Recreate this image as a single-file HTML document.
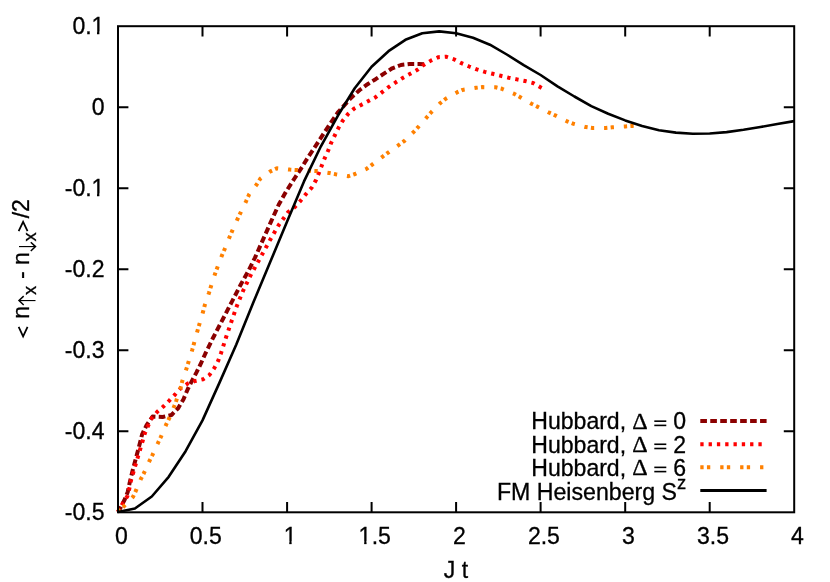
<!DOCTYPE html>
<html><head><meta charset="utf-8"><title>plot</title>
<style>html,body{margin:0;padding:0;background:#fff;}svg{display:block;will-change:transform;transform:translateZ(0);}text{font-family:"Liberation Sans",sans-serif;font-size:23.06px;fill:#000;stroke:#000;stroke-width:0.3px;font-kerning:none;font-variant-ligatures:none;}.sym{font-family:"Liberation Serif",serif;}</style></head><body>
<svg width="830" height="582" viewBox="0 0 830 582">
<rect x="0" y="0" width="830" height="582" fill="#fff"/>
<path d="M202.5,512.3 v-10.4 M202.5,26.2 v10.4 M287.1,512.3 v-10.4 M287.1,26.2 v10.4 M371.6,512.3 v-10.4 M371.6,26.2 v10.4 M456.1,512.3 v-10.4 M456.1,26.2 v10.4 M540.6,512.3 v-10.4 M540.6,26.2 v10.4 M625.2,512.3 v-10.4 M625.2,26.2 v10.4 M709.7,512.3 v-10.4 M709.7,26.2 v10.4 M118.0,107.2 h10.4 M794.2,107.2 h-10.4 M118.0,188.2 h10.4 M794.2,188.2 h-10.4 M118.0,269.2 h10.4 M794.2,269.2 h-10.4 M118.0,350.3 h10.4 M794.2,350.3 h-10.4 M118.0,431.3 h10.4 M794.2,431.3 h-10.4" stroke="#000" stroke-width="2" fill="none"/>
<g fill="none" stroke-linejoin="round">
<path d="M118.0,512.0 L120.4,507.9 L124.5,500.0 L127.7,492.0 L129.7,482.6 L132.4,471.4 L135.1,461.3 L137.7,451.6 L139.8,443.6 L142.1,434.4 L146.6,425.1 L152.5,416.6 L162.6,417.0 L171.5,415.0 L178.3,408.0 L183.5,399.2 L187.8,389.0 L192.2,380.4 L196.5,372.4 L200.8,363.7 L205.3,353.7 L213.4,337.2 L222.8,319.2 L232.2,301.1 L240.8,284.5 L248.6,270.5 L254.9,257.9 L262.9,239.9 L270.8,222.1 L278.8,204.5 L285.5,192.6 L294.3,178.7 L301.5,167.8 L308.7,156.3 L316.0,145.4 L323.9,133.1 L331.1,122.3 L338.2,112.0 L351.0,97.9 L359.7,90.0 L367.6,84.2 L375.6,79.2 L384.3,73.4 L392.2,68.3 L400.9,65.0 L409.6,64.0 L419.0,64.0 L424.0,64.3" stroke="#8b0000" stroke-width="4" stroke-dasharray="6.604 3.302" stroke-dashoffset="0.4"/>
<path d="M118.0,512.0 L122.8,503.1 L127.3,496.4 L129.3,488.7 L130.9,480.8 L133.3,472.5 L135.5,464.9 L137.8,457.2 L140.2,449.1 L142.6,441.1 L144.9,433.1 L148.2,425.5 L152.0,417.9 L157.3,411.8 L163.4,406.5 L169.3,400.6 L175.1,394.5 L180.6,388.3 L187.5,383.7 L194.6,381.1 L203.0,379.3 L209.5,374.9 L214.3,368.1 L218.2,360.8 L221.1,352.9 L226.1,337.2 L231.4,321.6 L236.8,306.1 L243.0,291.0 L250.2,276.1 L254.2,268.8 L262.2,254.3 L270.1,239.9 L278.5,225.4 L288.2,212.0 L294.7,207.1 L300.5,200.8 L306.0,194.0 L311.8,187.5 L316.0,180.1 L318.9,172.9 L321.7,165.7 L324.6,158.4 L328.2,150.5 L331.1,143.0 L334.8,135.3 L338.4,128.1 L342.7,120.8 L347.8,114.3 L353.9,108.8 L361.1,104.9 L368.4,101.1 L375.6,97.2 L382.1,92.2 L388.6,87.1 L395.8,82.3 L403.1,77.7 L410.3,73.8 L417.5,69.8 L424.0,64.7 L431.3,60.4 L438.5,57.2 L446.0,56.7 L454.0,59.3 L461.5,63.2 L469.2,66.5 L476.8,69.4 L484.8,71.9 L492.7,73.8 L500.7,75.8 L508.6,77.7 L516.9,79.4 L525.1,81.0 L533.0,83.0 L540.5,87.3 L541.8,88.0" stroke="#ff0000" stroke-width="4" stroke-dasharray="3.304 4.956" stroke-dashoffset="0.46"/>
<path d="M118.0,512.0 L123.6,506.6 L133.0,496.8 L135.9,490.7 L140.9,478.9 L144.1,472.8 L149.6,460.6 L152.5,454.9 L158.0,443.0 L160.9,436.9 L166.1,424.7 L169.0,418.7 L174.1,406.4 L176.3,400.6 L180.6,387.9 L182.3,381.1 L186.4,368.8 L188.3,362.7 L192.1,350.3 L193.9,343.7 L197.5,330.7 L199.3,324.5 L203.0,311.9 L204.7,305.4 L209.0,292.8 L210.9,286.6 L215.0,274.0 L217.3,267.6 L222.0,255.3 L224.6,249.3 L229.6,237.0 L232.2,230.9 L237.6,218.9 L240.5,212.8 L246.3,200.8 L249.2,194.3 L256.7,184.5 L260.3,178.7 L270.4,171.4 L276.9,168.3 L289.9,169.6 L296.4,170.0 L309.5,170.7 L316.7,171.0 L329.0,172.9 L335.6,174.2 L348.6,176.2 L355.1,174.0 L366.8,168.7 L371.9,164.8 L382.4,156.8 L387.8,152.8 L398.6,145.1 L404.1,141.2 L413.5,132.1 L418.1,127.2 L426.8,117.3 L431.2,112.3 L440.4,103.0 L445.4,99.0 L456.9,92.4 L462.6,89.9 L476.1,87.8 L482.5,87.1 L495.6,87.3 L502.0,88.8 L514.4,93.9 L519.8,96.9 L531.4,103.7 L537.3,106.6 L549.3,112.7 L555.1,115.3 L567.0,121.3 L573.2,123.7 L585.8,127.1 L592.6,128.0 L605.7,127.9 L612.2,127.3 L625.5,126.4 L632.2,125.9 L634.0,125.8" stroke="#ff8000" stroke-width="4" stroke-dasharray="3.299 3.299 3.299 9.897" stroke-dashoffset="-0.22"/>
<path d="M118.0,512.1 L134.9,508.5 L151.8,496.5 L168.7,476.8 L185.6,451.2 L202.5,420.4 L219.4,382.9 L236.3,344.5 L253.2,302.8 L270.1,262.3 L287.1,221.6 L304.0,181.4 L320.9,146.3 L337.8,115.8 L354.7,88.3 L371.6,66.7 L388.5,51.2 L405.4,39.8 L422.3,33.2 L439.2,31.4 L456.1,33.3 L473.0,37.7 L489.9,44.7 L506.8,54.5 L523.7,65.1 L540.6,75.0 L557.5,86.3 L574.4,96.5 L591.3,106.1 L608.2,113.8 L625.2,120.4 L642.1,126.1 L659.0,130.2 L675.9,132.6 L692.8,133.7 L709.7,133.5 L726.6,132.1 L743.5,129.8 L760.4,127.0 L777.3,124.0 L794.2,121.1" stroke="#000" stroke-width="2.6"/>
</g>
<rect x="118.0" y="26.2" width="676.2" height="486.1" fill="none" stroke="#000" stroke-width="2"/>
<defs><clipPath id="nofoot"><path d="M-3,-22 H16 V-2.6 H-3 Z M5.65,-3 H7.96 V1 H5.65 Z"/></clipPath></defs>
<text x="72.45" y="34.2">0.</text>
<g transform="translate(91.38,34.2)"><text x="0" y="0" clip-path="url(#nofoot)">1</text></g>
<text x="91.68" y="115.2">0</text>
<text x="64.77" y="196.2">-0.</text>
<g transform="translate(91.38,196.2)"><text x="0" y="0" clip-path="url(#nofoot)">1</text></g>
<text x="64.77" y="277.2">-0.2</text>
<text x="64.77" y="358.3">-0.3</text>
<text x="64.77" y="439.3">-0.4</text>
<text x="64.77" y="520.3">-0.5</text>
<text x="114.89" y="543.8">0</text>
<text x="189.80" y="543.8">0.5</text>
<g transform="translate(283.64,543.8)"><text x="0" y="0" clip-path="url(#nofoot)">1</text></g>
<g transform="translate(358.55,543.8)"><text x="0" y="0" clip-path="url(#nofoot)">1</text></g>
<text x="371.67" y="543.8">.5</text>
<text x="452.99" y="543.8">2</text>
<text x="527.90" y="543.8">2.5</text>
<text x="622.04" y="543.8">3</text>
<text x="696.95" y="543.8">3.5</text>
<text x="791.09" y="543.8">4</text>
<text x="456" y="578" text-anchor="middle">J t</text>
<g transform="translate(28.8,338.5) rotate(-90)">
<text x="19.88" y="0">n</text>
<path d="M11.7,-10.15 L2.1,-5.7 L11.7,-1.25" fill="none" stroke="#000" stroke-width="1.75" stroke-miterlimit="10"/>
<path d="M107.3,-10.15 L116.7,-5.7 L107.3,-1.25" fill="none" stroke="#000" stroke-width="1.75" stroke-miterlimit="10"/>
<text x="43.42" y="6.92" style="font-size:18.45px">x</text>
<text x="59.46" y="0">- n</text>
<text x="97.09" y="6.92" style="font-size:18.45px">x</text>
<text x="120.18" y="0">/2</text>
<g fill="none" stroke="#000" stroke-linecap="butt">
<path d="M37.95,6.70 V-9.40" stroke-width="1.15"/>
<path d="M33.55,-5.10 L37.95,-9.80 L42.35,-5.10" stroke-width="1.5" stroke-linejoin="miter"/>
<path d="M91.92,-9.80 V6.30" stroke-width="1.15"/>
<path d="M87.52,2.00 L91.92,6.70 L96.32,2.00" stroke-width="1.5" stroke-linejoin="miter"/>
</g></g>
<text x="626.1" y="429.4" text-anchor="end">Hubbard,</text>
<text x="632.25" y="428.9" class="sym" style="font-size:24px">&#916;</text>
<rect x="654.3" y="420.37" width="12.0" height="1.6"/><rect x="654.3" y="424.60" width="12.0" height="1.6"/>
<text x="686.0" y="429.4" text-anchor="end">0</text>
<text x="626.1" y="452.5" text-anchor="end">Hubbard,</text>
<text x="632.25" y="452.0" class="sym" style="font-size:24px">&#916;</text>
<rect x="654.3" y="443.47" width="12.0" height="1.6"/><rect x="654.3" y="447.70" width="12.0" height="1.6"/>
<text x="686.0" y="452.5" text-anchor="end">2</text>
<text x="626.1" y="475.6" text-anchor="end">Hubbard,</text>
<text x="632.25" y="475.1" class="sym" style="font-size:24px">&#916;</text>
<rect x="654.3" y="466.57" width="12.0" height="1.6"/><rect x="654.3" y="470.80" width="12.0" height="1.6"/>
<text x="686.0" y="475.6" text-anchor="end">6</text>
<text x="686.3" y="500.0" text-anchor="end" style="font-size:23.16px">FM Heisenberg S<tspan dy="-11" style="font-size:18.45px">z</tspan></text>
<g fill="none">
<path d="M700.3,421.1 H766.6" stroke="#8b0000" stroke-width="4" stroke-dasharray="6.64 3.32"/>
<path d="M700.3,444.3 H766.6" stroke="#ff0000" stroke-width="4" stroke-dasharray="3.32 4.98"/>
<path d="M700.3,467.3 H766.6" stroke="#ff8000" stroke-width="4" stroke-dasharray="3.32 3.32 3.32 9.96"/>
<path d="M700.3,490.5 H766.6" stroke="#000" stroke-width="3"/>
</g>
</svg></body></html>
